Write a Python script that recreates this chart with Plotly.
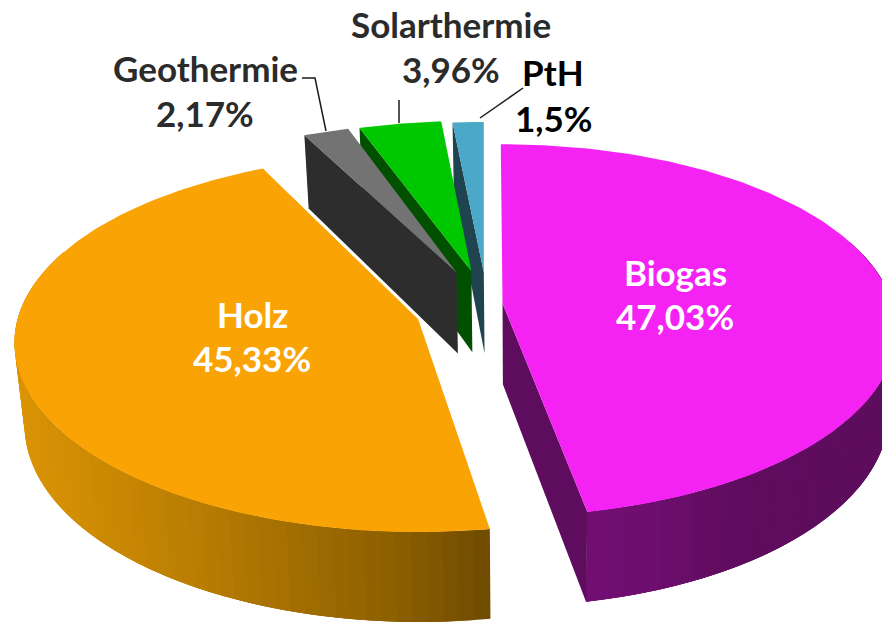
import numpy as np
import plotly.graph_objects as go

# Data
labels = ["Biogas", "Holz", "Geothermie", "Solarthermie", "PtH"]
values = [47.03, 45.33, 2.17, 3.96, 1.5]
value_labels = ["47,03%", "45,33%", "2,17%", "3,96%", "1,5%"]

# Style
top_colors = ["#F423F4", "#FAA305", "#737373", "#00C800", "#4BA8C8"]
wall_colors = ["#5E0C5E", "#8A5E00", "#2D2D2D", "#005000", "#1F4450"]
text_colors = ["#FFFFFF", "#FFFFFF", "#2B2B2B", "#2B2B2B", "#000000"]
FONT = "Lato"
FS = 35

# Projection parameters of the exploded, tilted pie (pixels), per slice where needed
W, H = 882, 623
HUB_X, HUB_Y = 487.0, 303.0
rx = [390, 400, 400, 400, 400]
ry = [186, 189, 181, 181, 181]
pulls = [0.04, 0.183, 0.19, 0.18, 0.17]
lifts = [1, 4, 1, 0, 0]
persp = [0.145, 0.131, 0.17, 0.17, 0.17]
rot_deg = [-0.3, 1.5, 0.8, 0.2, 0]
DEPTH = 81.0
DEPTH_PERSP = 0.11
BOTTOM_SCALE = 0.98
BOTTOM_XC = 520.0

fracs = np.array(values) / np.sum(values)
edges = np.concatenate([[0.0], np.cumsum(fracs)]) * 2 * np.pi


def apex(i):
    b = 0.5 * (edges[i] + edges[i + 1])
    return (HUB_X + pulls[i] * rx[i] * np.sin(b),
            HUB_Y - pulls[i] * ry[i] * np.cos(b) + lifts[i])


def rim(i, th):
    ax, ay = apex(i)
    t = th + np.radians(rot_deg[i])
    s = 1 - persp[i] * np.cos(t)
    return ax + rx[i] * np.sin(t) * s, ay - ry[i] * np.cos(t) * s


def lower(x, y, th):
    d = DEPTH * (1 - DEPTH_PERSP * np.cos(th))
    return BOTTOM_XC + (x - BOTTOM_XC) * BOTTOM_SCALE, y + d


def lower_apex(i):
    ax, ay = apex(i)
    return BOTTOM_XC + (ax - BOTTOM_XC) * BOTTOM_SCALE, ay + DEPTH


fig = go.Figure()


def poly(xs, ys, color, name=None, lw=0.0):
    fig.add_trace(go.Scatter(
        x=list(xs), y=list(ys), mode="lines", fill="toself", fillcolor=color,
        line=dict(color=color, width=lw), hoverinfo="skip",
        showlegend=False, name=name))


def hexc(c):
    return "#%02X%02X%02X" % tuple(int(round(v)) for v in c)


def rgb(h):
    return [int(h[k:k + 2], 16) for k in (1, 3, 5)]


def strip_color(stops, x):
    xs = [p[0] for p in stops]
    cs = np.array([rgb(p[1]) for p in stops], float)
    return hexc([np.interp(x, xs, cs[:, k]) for k in range(3)])


holz_stops = [(20, "#DA9304"), (180, "#BC7F03"), (400, "#8A5E00"), (490, "#6F4B00")]
biogas_stops = [(590, "#730E73"), (650, "#6E0E6E"), (740, "#5F0C5F"), (882, "#5E0C5E")]


def side_strips(i, th0, th1, stops, n=60):
    # painter's overlap: every strip reaches under the next one, so no seams show
    ths = np.linspace(th0, th1, n + 1)
    for k in range(n):
        a, b = ths[k], ths[min(k + 3, n)]
        sub = np.linspace(a, b, 8)
        xs, ys = rim(i, sub)
        xl, yl = lower(xs, ys, sub)
        xm = rim(i, 0.5 * (ths[k] + ths[k + 1]))[0]
        poly(np.r_[xs, xl[::-1], xs[0]], np.r_[ys, yl[::-1], ys[0]], strip_color(stops, xm))


def cut_wall(i, th):
    ax, ay = apex(i)
    bx, by = lower_apex(i)
    x, y = rim(i, th)
    xl, yl = lower(x, y, th)
    poly([ax, x, xl, bx, ax], [ay, y, yl, by, ay], wall_colors[i])


def top_face(i):
    ths = np.linspace(edges[i], edges[i + 1], 160)
    xs, ys = rim(i, ths)
    ax, ay = apex(i)
    poly(np.r_[ax, xs, ax], np.r_[ay, ys, ay], top_colors[i], name=labels[i])


# Painter's order: thin back slices first, the big ones in front
for i in [4, 3, 2]:
    cut_wall(i, edges[i])
    top_face(i)

# Biogas: strips drawn from the right edge towards the cut
side_strips(0, np.radians(70), edges[1], biogas_stops, n=40)
cut_wall(0, edges[1])
top_face(0)

# Holz
side_strips(1, edges[1], np.radians(290), holz_stops, n=60)
top_face(1)
ax, ay = apex(1)
ex, ey = rim(1, edges[2])
fig.add_trace(go.Scatter(x=[ex, ax], y=[ey, ay], mode="lines",
                         line=dict(color="#FFFFFF", width=1), hoverinfo="skip",
                         showlegend=False))

# Leader lines
leaders = [([302, 315, 326], [78, 78, 131]),
           ([399, 399], [100, 123]),
           ([523, 480], [88, 118])]
for lx, ly in leaders:
    fig.add_trace(go.Scatter(x=lx, y=ly, mode="lines",
                             line=dict(color="#1A1A1A", width=1.5),
                             hoverinfo="skip", showlegend=False))

# Labels
label_pos = [(675, 272, 316), (252, 314, 358), (205, 68, 113), (451, 24, 69), (553, 72, 118)]
annotations = []
for i, (lx, y1, y2) in enumerate(label_pos):
    for txt, yy in ((labels[i], y1), (value_labels[i], y2)):
        annotations.append(dict(
            x=lx, y=yy, text="<b>%s</b>" % txt, showarrow=False, xref="x", yref="y",
            xanchor="center", yanchor="middle",
            font=dict(family=FONT, size=FS, color=text_colors[i])))

fig.update_layout(
    width=W, height=H, autosize=False,
    margin=dict(l=0, r=0, t=0, b=0),
    paper_bgcolor="#FFFFFF", plot_bgcolor="#FFFFFF",
    xaxis=dict(range=[0, W], visible=False, fixedrange=True),
    yaxis=dict(range=[H, 0], visible=False, fixedrange=True),
    annotations=annotations, showlegend=False,
)

fig.write_html("out.html", config={"displayModeBar": False},
               post_script="document.body.style.margin='0';")
